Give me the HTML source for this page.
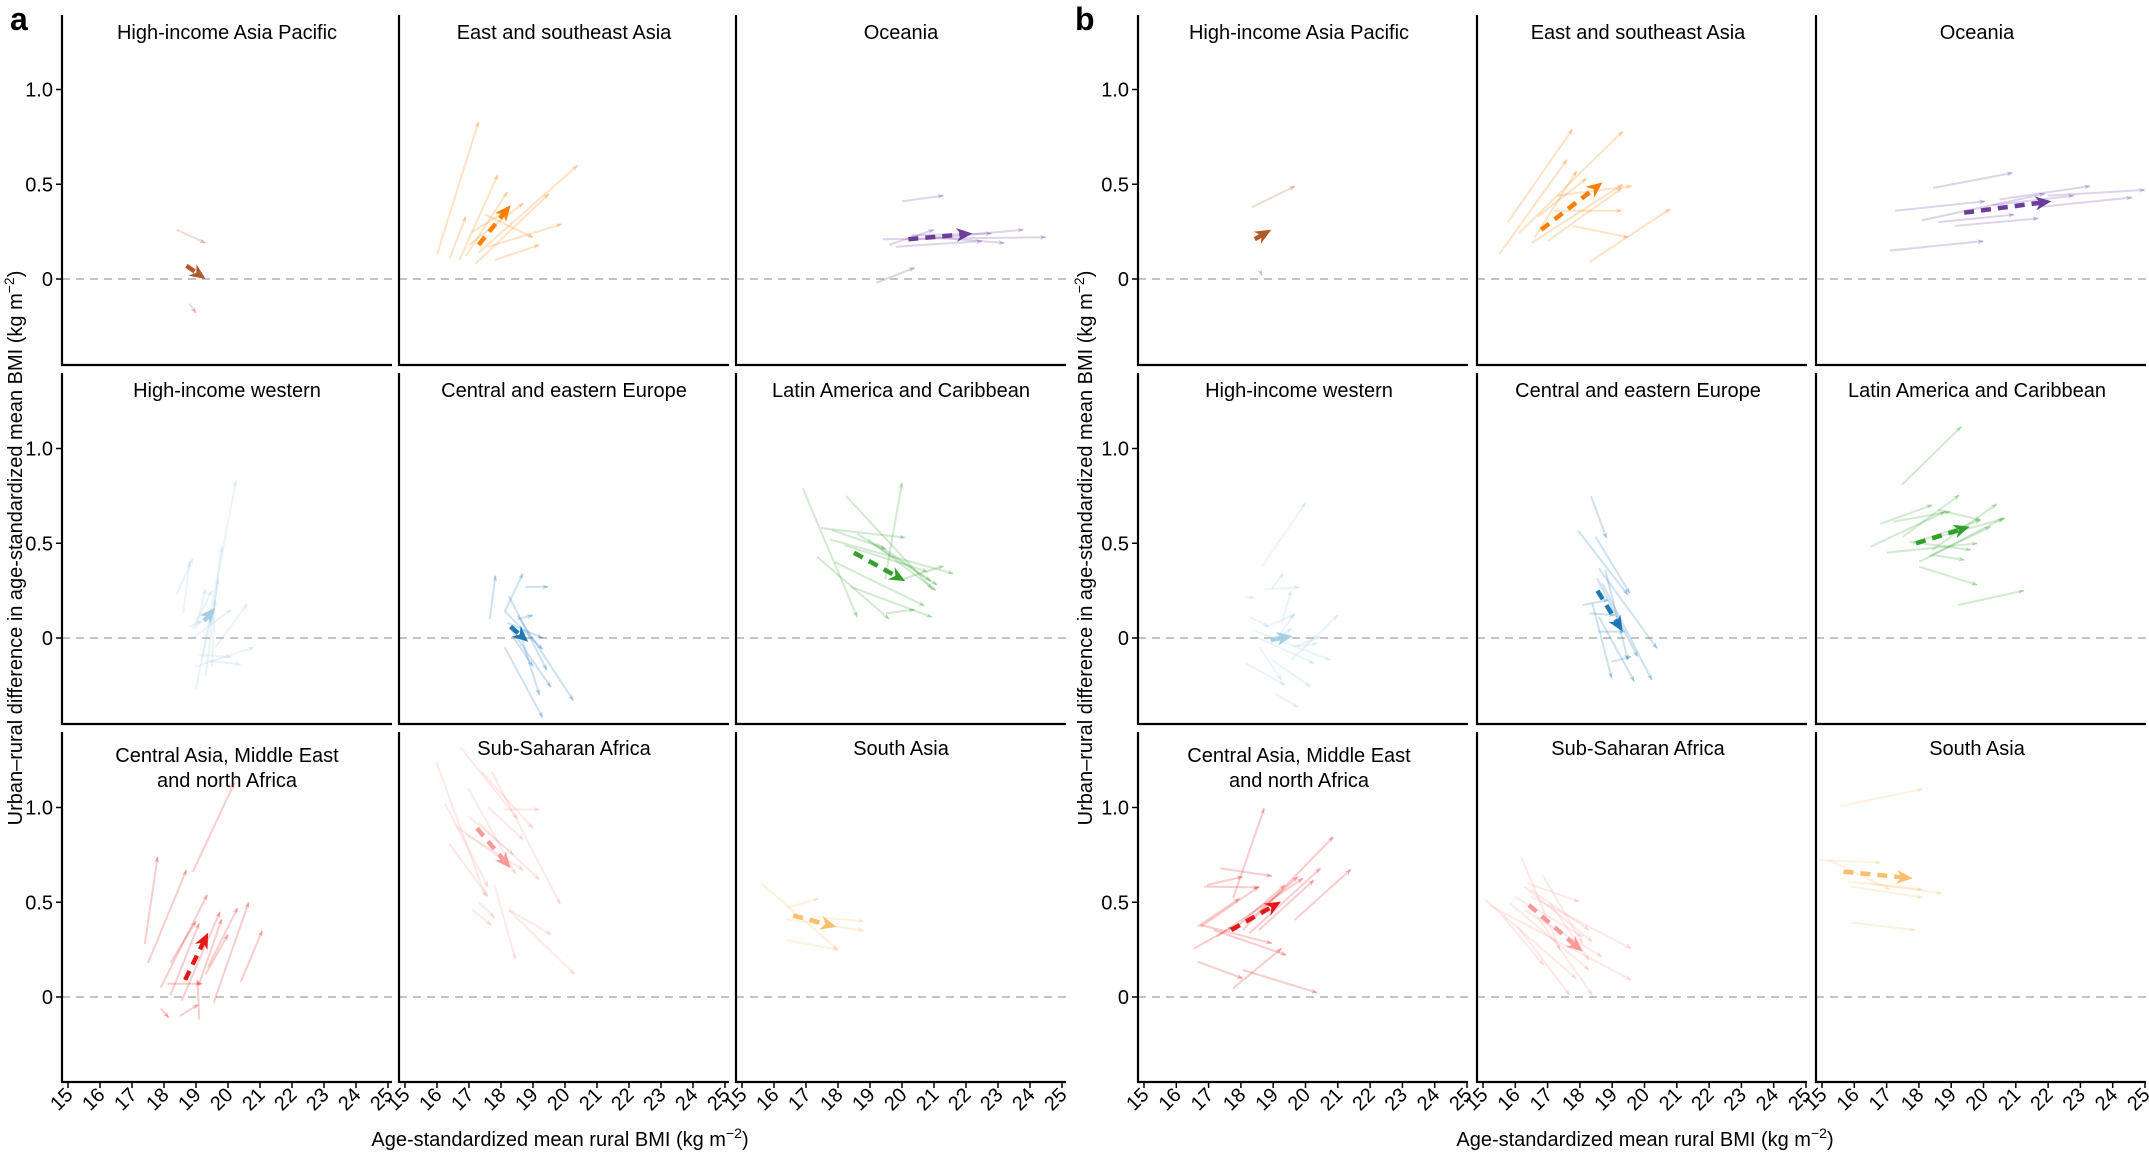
<!DOCTYPE html>
<html><head><meta charset="utf-8"><style>
html,body{margin:0;padding:0;background:#fff;}
svg{display:block;font-family:"Liberation Sans",Arial,sans-serif;}
</style></head><body>
<svg id="s" width="2149" height="1152" viewBox="0 0 2149 1152" xmlns="http://www.w3.org/2000/svg"></svg>
<script>
const S=document.getElementById('s');let out='';
const ZERO=[279,638,997],TOP=[15,373,732],BOT=[365,724,1082];
const LA=[62,399,736],LB=[1138,1477,1816],W=330;
function px(fig,c,v){const L=(fig==0?LA:LB)[c];return L+6+(v-15)*(fig==0?32:32.3);}
function py(r,v){return ZERO[r]-v*189.5;}
function head(x1,y1,x2,y2,len,wid,col,op){const dx=x2-x1,dy=y2-y1,d=Math.hypot(dx,dy)||1,ux=dx/d,uy=dy/d;
 const bx=x2-ux*len,by=y2-uy*len;
 out+=`<polygon points="${x2},${y2} ${bx-uy*wid/2},${by+ux*wid/2} ${x2-ux*len*0.7},${y2-uy*len*0.7} ${bx+uy*wid/2},${by-ux*wid/2}" fill="${col}" fill-opacity="${op}"/>`;}
function faint(x1,y1,x2,y2,col){out+=`<line x1="${x1}" y1="${y1}" x2="${x2}" y2="${y2}" stroke="${col}" stroke-opacity="0.22" stroke-width="2"/>`;head(x1,y1,x2,y2,6,5,col,0.3);}
function main(x1,y1,x2,y2,col){const dx=x2-x1,dy=y2-y1,d=Math.hypot(dx,dy),ux=dx/d,uy=dy/d;
 out+=`<line x1="${x1}" y1="${y1}" x2="${x2-ux*10}" y2="${y2-uy*10}" stroke="${col}" stroke-width="4.5" stroke-dasharray="10,7"/>`;head(x1,y1,x2,y2,16,14,col,1);}
function dpanel(fig,r,c,col,lines,m){lines.forEach(l=>faint(px(fig,c,l[0]),py(r,l[1]),px(fig,c,l[2]),py(r,l[3]),col));
 if(m)main(px(fig,c,m[0]),py(r,m[1]),px(fig,c,m[2]),py(r,m[3]),col);}
function zpanel(r,col,lines,m){const f=(x,y)=>[1136+x/1.545,(r==1?370:730)+y/3];
 lines.forEach(l=>{const a=f(l[0],l[1]),b=f(l[2],l[3]);faint(a[0],a[1],b[0],b[1],col);});
 if(m){const a=f(m[0],m[1]),b=f(m[2],m[3]);main(a[0],a[1],b[0],b[1],col);}}
const titles=[["High-income Asia Pacific","East and southeast Asia","Oceania"],["High-income western","Central and eastern Europe","Latin America and Caribbean"],[["Central Asia, Middle East","and north Africa"],"Sub-Saharan Africa","South Asia"]];
for(let fig=0;fig<2;fig++)for(let r=0;r<3;r++)for(let c=0;c<3;c++){
 const L=(fig==0?LA:LB)[c];
 out+=`<line x1="${L}" y1="${ZERO[r]}" x2="${L+W}" y2="${ZERO[r]}" stroke="#b0b0b0" stroke-width="1.6" stroke-dasharray="8,6"/>`;
 out+=`<path d="M${L},${TOP[r]} V${BOT[r]} H${L+W}" fill="none" stroke="#000" stroke-width="2.2"/>`;
 const t=titles[r][c],cx=L+W/2+(fig==1?-4:0);
 if(Array.isArray(t)){out+=`<text x="${cx}" y="${TOP[r]+30}" font-size="20" text-anchor="middle">${t[0]}</text><text x="${cx}" y="${TOP[r]+55}" font-size="20" text-anchor="middle">${t[1]}</text>`;}
 else out+=`<text x="${cx}" y="${TOP[r]+(r==2?23:24)}" font-size="20" text-anchor="middle">${t}</text>`;
 if(c==0){[[1,'1.0'],[0.5,'0.5'],[0,'0']].forEach(([v,s])=>{const y=py(r,v);out+=`<line x1="${L-6}" y1="${y}" x2="${L}" y2="${y}" stroke="#000" stroke-width="1.5"/><text x="${L-9}" y="${y+7}" font-size="20" text-anchor="end">${s}</text>`;});}
 if(r==2){for(let v=15;v<=25;v++){const x=px(fig,c,v);out+=`<line x1="${x}" y1="${BOT[2]}" x2="${x}" y2="${BOT[2]+6}" stroke="#000" stroke-width="1.5"/><text font-size="20" text-anchor="end" transform="translate(${x+6},${BOT[2]+14}) rotate(-45)">${v}</text>`;}}
}
out+=`<text x="10" y="30" font-size="32" font-weight="bold">a</text><text x="1075" y="30" font-size="32" font-weight="bold">b</text>`;
out+=`<text x="560" y="1146" font-size="20" text-anchor="middle">Age-standardized mean rural BMI (kg m<tspan dy="-8" font-size="14">−2</tspan><tspan dy="8">)</tspan></text>`;
out+=`<text x="1645" y="1146" font-size="20" text-anchor="middle">Age-standardized mean rural BMI (kg m<tspan dy="-8" font-size="14">−2</tspan><tspan dy="8">)</tspan></text>`;
[22,1092].forEach(x=>{out+=`<text font-size="20" text-anchor="middle" transform="translate(${x},548) rotate(-90)">Urban–rural difference in age-standardized mean BMI (kg m<tspan dy="-8" font-size="14">−2</tspan><tspan dy="8">)</tspan></text>`;});
dpanel(0,0,0,'#b15928',[[18.4,0.26,19.3,0.19],[18.8,-0.13,19.0,-0.18]],[18.7,0.07,19.3,0.0]);
dpanel(0,0,1,'#ff7f00',[[16.0,0.13,17.3,0.83],[16.4,0.11,16.9,0.33],[16.7,0.10,17.9,0.55],[16.9,0.12,18.2,0.46],[17.2,0.08,19.5,0.45],[17.3,0.14,20.4,0.6],[17.0,0.18,18.7,0.40],[17.6,0.17,19.9,0.29],[17.5,0.34,19.0,0.22],[17.8,0.10,19.2,0.18],[17.1,0.25,18.1,0.35]],[17.3,0.18,18.3,0.39]);
dpanel(0,0,2,'#6a3d9a',[[20.0,0.41,21.3,0.44],[19.6,0.18,21.0,0.26],[19.4,0.21,24.5,0.22],[20.5,0.21,23.8,0.26],[19.8,0.17,22.5,0.20],[21,0.22,23.2,0.19],[19.2,-0.02,20.4,0.06],[20.3,0.23,22.8,0.24]],[20.2,0.21,22.2,0.24]);
dpanel(0,1,0,'#a6cee3',[[19.0,-0.27,20.25,0.83],[18.4,0.23,18.9,0.42],[18.6,0.13,18.8,0.40],[19.3,-0.2,19.8,0.48],[19.5,0.1,19.7,0.31],[19.0,-0.15,20.8,-0.05],[19.4,-0.12,20.4,-0.14],[19.1,-0.09,20.1,-0.1],[18.9,0.0,20.1,0.15],[19.6,-0.05,20.6,0.18],[18.9,0.05,19.5,0.25],[19.0,0.05,19.3,0.26],[19.5,-0.15,19.6,0.2],[18.8,0.06,19.2,0.09],[19.2,-0.1,19.5,0.12]],[19.25,0.09,19.6,0.16]);
dpanel(0,1,1,'#1f78b4',[[17.65,0.10,17.83,0.33],[18.12,0.14,18.68,0.34],[18.76,0.27,19.48,0.27],[18.12,0.14,19.3,-0.06],[18.25,0.22,19.43,-0.17],[18.52,0.12,20.26,-0.33],[18.12,-0.05,19.3,-0.42],[18.3,0.05,19.56,-0.26],[18.4,0.0,19.0,-0.15],[18.2,0.08,19.3,0.0],[18.5,0.1,19.0,0.12],[18.6,0.02,19.2,-0.3]],[18.3,0.06,18.85,-0.02]);
dpanel(0,1,2,'#33a02c',[[16.9,0.79,18.6,0.11],[18.25,0.75,20.94,0.26],[19.47,0.31,20.0,0.82],[17.47,0.58,20.1,0.53],[17.34,0.43,19.6,0.10],[17.75,0.52,21.6,0.34],[18.94,0.52,21.06,0.25],[18.4,0.27,20.94,0.11],[17.9,0.40,20.7,0.17],[20.0,0.31,21.3,0.38],[18.2,0.49,20.8,0.35],[19.5,0.13,20.4,0.15],[18.6,0.55,21.1,0.28],[19.2,0.50,20.9,0.30],[17.8,0.57,19.5,0.47]],[18.5,0.45,20.1,0.30]);
dpanel(0,2,0,'#e31a1c',[[18.9,0.66,20.2,1.13],[17.4,0.28,17.8,0.74],[17.5,0.18,18.7,0.67],[17.9,0.05,19.35,0.54],[18.2,0.01,19.1,0.39],[18.55,-0.02,19.75,0.45],[19.38,0.16,20.3,0.47],[19.55,-0.03,20.65,0.50],[20.4,0.08,21.07,0.35],[18.5,-0.1,19.07,-0.04],[17.9,-0.06,18.15,-0.11],[19.1,-0.12,19.05,0.09],[19.1,0.07,19.8,0.41],[18.2,0.18,19.0,0.40],[18.1,0.07,19.2,0.07],[19.3,0.12,20.0,0.33]],[18.66,0.09,19.38,0.34]);
dpanel(0,2,1,'#fb9a99',[[16.72,1.32,18.52,0.94],[15.98,1.24,17.52,0.53],[17.38,1.19,19.0,0.89],[17.71,1.19,19.85,0.49],[16.25,1.02,17.6,0.58],[16.98,1.10,18.45,0.65],[16.38,0.81,17.6,0.53],[17.8,0.59,18.45,0.20],[18.24,0.46,19.57,0.33],[18.1,0.99,19.2,0.99],[17.3,0.92,19.2,0.62],[16.9,0.86,18.7,0.67],[17.3,0.5,17.8,0.42],[17.1,0.46,17.7,0.38],[18.24,0.46,20.3,0.12],[17.6,1.0,18.7,0.83],[17.0,0.95,18.4,0.75],[16.6,0.9,18.1,0.72]],[17.25,0.89,18.3,0.68]);
dpanel(0,2,2,'#fdbf6f',[[15.6,0.60,18.0,0.25],[16.4,0.47,17.4,0.52],[16.38,0.30,18.0,0.25],[16.4,0.41,18.8,0.35],[17.4,0.42,18.8,0.40]],[16.6,0.43,17.95,0.37]);
dpanel(1,0,0,'#b15928',[[18.35,0.38,19.68,0.49],[18.6,0.04,18.65,0.02]],[18.43,0.21,18.94,0.26]);
dpanel(1,0,1,'#ff7f00',[[15.77,0.30,17.77,0.79],[15.5,0.13,17.6,0.63],[16.1,0.24,19.33,0.78],[16.5,0.19,19.33,0.50],[17.0,0.20,19.3,0.48],[17.77,0.28,19.5,0.22],[17.2,0.36,19.3,0.36],[17.3,0.44,19.6,0.49],[18.3,0.09,20.8,0.37],[16.7,0.33,18.2,0.53],[16.6,0.22,17.9,0.57]],[16.8,0.26,18.7,0.51]);
dpanel(1,0,2,'#6a3d9a',[[18.44,0.48,20.9,0.56],[17.27,0.36,20.05,0.41],[17.1,0.15,20.0,0.20],[18.1,0.31,21.9,0.45],[18.6,0.30,20.95,0.34],[19.1,0.28,21.7,0.32],[20.5,0.42,23.3,0.49],[21.7,0.38,24.6,0.43],[22.0,0.44,25.0,0.47],[20.3,0.39,22.8,0.44]],[19.4,0.35,22.1,0.41]);
zpanel(1,'#a6cee3',[[195,588,262,398],[210,655,228,610],[197,658,252,652],[168,682,183,682],[225,760,240,662],[175,740,205,770],[180,780,300,870],[185,800,275,880],[170,880,230,945],[215,970,250,1012],[190,830,225,930],[210,870,270,950],[240,870,312,735],[245,830,285,800],[200,770,245,735],[208,820,240,775],[220,800,245,730],[250,830,280,820]],[208,810,242,798]);
zpanel(1,'#1f78b4',[[703,378,727,505],[683,482,760,675],[710,500,763,670],[715,595,805,835],[712,625,775,860],[720,640,797,930],[705,700,735,925],[715,740,770,935],[690,705,730,690],[700,730,740,735],[715,785,755,785],[735,875,765,860],[725,600,760,870]],[713,662,752,785]);
zpanel(1,'#33a02c',[[1183,345,1275,170],[1150,462,1230,405],[1185,500,1272,375],[1135,530,1250,425],[1160,548,1300,520],[1210,590,1300,645],[1270,705,1372,662],[1230,540,1330,402],[1225,560,1340,445],[1200,520,1305,450],[1210,575,1320,470],[1240,420,1305,450],[1170,455,1258,425],[1195,515,1290,540],[1230,555,1280,570],[1240,500,1343,445]],[1205,520,1288,470]);
zpanel(2,'#e31a1c',[[110,465,165,440],[105,470,190,472],[130,415,210,438],[95,590,160,505],[90,655,150,590],[150,505,198,235],[100,585,210,640],[95,695,165,745],[150,775,225,655],[165,720,280,788],[120,600,232,675],[165,600,305,320],[175,610,285,415],[190,600,275,450],[125,620,258,445],[245,570,332,418],[170,580,250,440],[150,600,230,465],[100,590,190,470]],[147,600,224,515]);
zpanel(2,'#fb9a99',[[540,510,680,745],[545,525,765,750],[595,380,655,660],[600,470,705,635],[605,460,685,515],[578,520,700,720],[610,500,765,655],[628,435,690,640],[620,560,705,795],[590,590,670,795],[600,540,720,680],[640,520,700,690],[565,555,630,705],[585,500,690,620],[610,480,700,600]],[607,525,690,665]);
zpanel(2,'#fdbf6f',[[1090,228,1215,177],[1055,390,1150,398],[1070,390,1165,478],[1100,455,1215,478],[1105,470,1215,502],[1135,460,1245,490],[1105,578,1203,600]],[1093,425,1200,445]);
S.innerHTML=out;
</script>
</body></html>
